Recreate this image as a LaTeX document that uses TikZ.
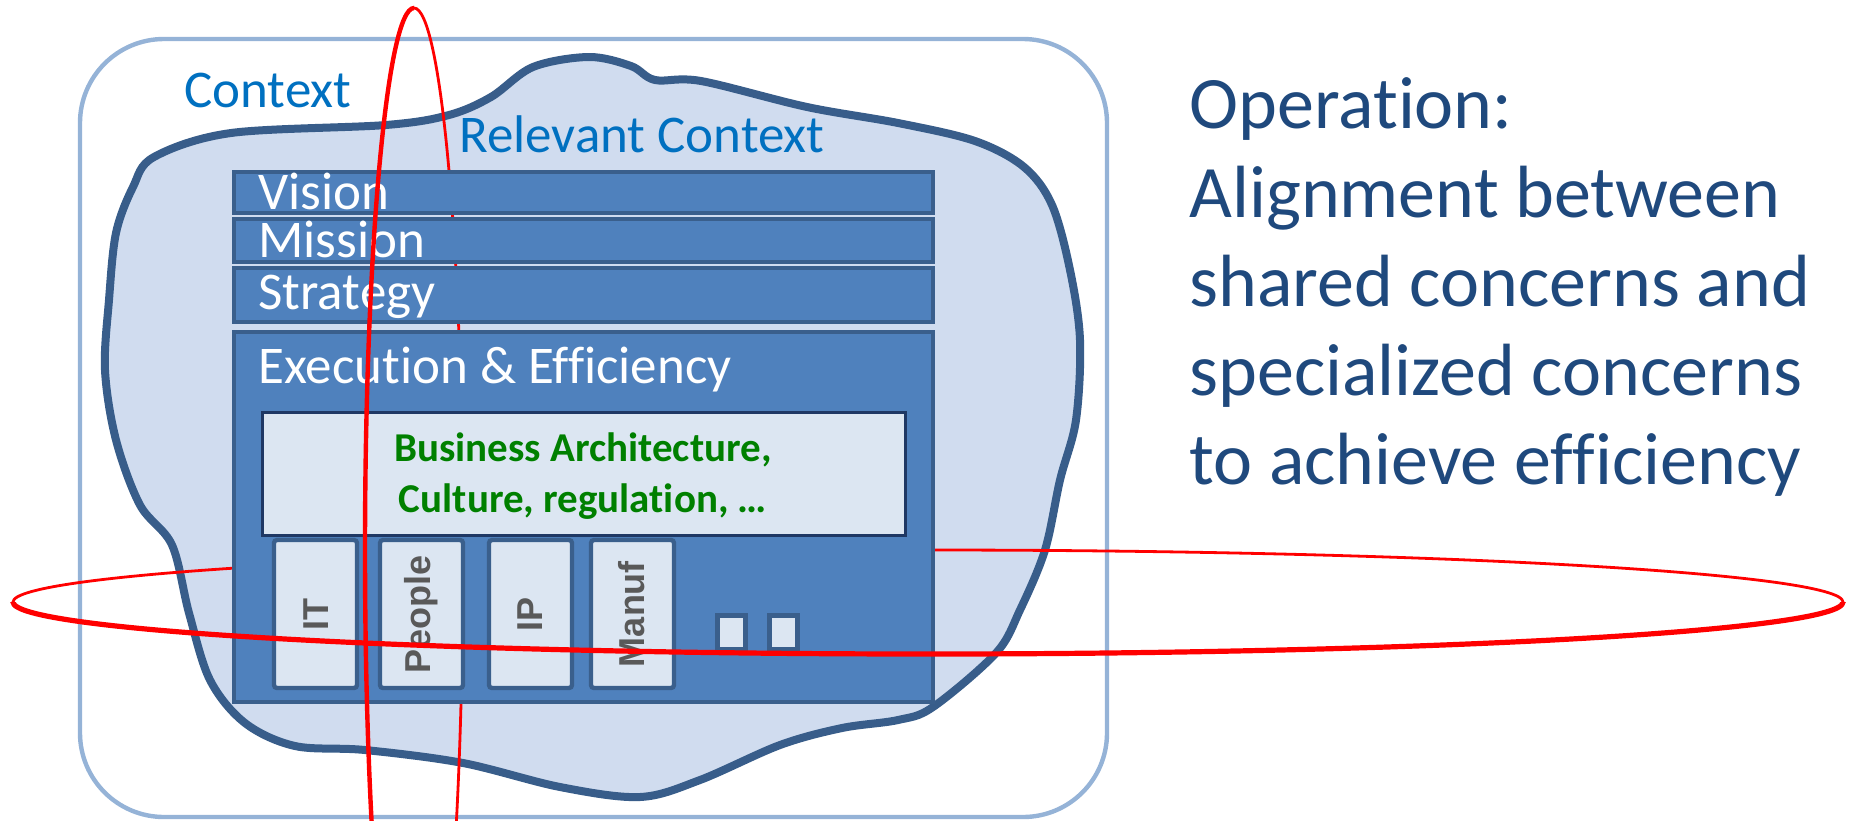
\documentclass[tikz,border=0pt]{standalone}
\usepackage{fontspec}
\setmainfont{Carlito}[Ligatures=NoCommon]
\newfontfamily\arialfont{Liberation Sans}
\definecolor{ctxline}{HTML}{95B3D7}
\definecolor{ctxtext}{HTML}{0070C0}
\definecolor{blobline}{HTML}{385D8A}
\definecolor{blobfill}{HTML}{D0DCEF}
\definecolor{barfill}{HTML}{4F81BD}
\definecolor{barline}{HTML}{3A5F8C}
\definecolor{lightfill}{HTML}{DCE6F2}
\definecolor{archline}{HTML}{1F3864}
\definecolor{optext}{HTML}{1F497D}
\definecolor{archgreen}{HTML}{008000}
\definecolor{labelgray}{HTML}{595959}
\tikzset{
  ctxbox/.style={draw=ctxline, line width=2.2pt, rounded corners=42pt},
  blob/.style={draw=blobline, fill=blobfill, line width=4pt},
  bar/.style={draw=barline, fill=barfill, line width=2pt},
  archbox/.style={draw=archline, fill=lightfill, line width=1.5pt},
  unitbox/.style={draw=barline, fill=lightfill, line width=2.2pt, rounded corners=1.5pt},
  bartext/.style={anchor=base west, inner sep=0pt, text=white, font=\fontsize{26.5}{31}\selectfont},
  ctxtext/.style={anchor=base west, inner sep=0pt, text=ctxtext, font=\fontsize{26.5}{31}\selectfont},
  unitlabel/.style={rotate=90, inner sep=0pt, text=labelgray, font=\arialfont\bfseries\fontsize{18}{21}\selectfont},
  redback/.style={draw=red, line width=1.4pt},
  redfront/.style={draw=red, line width=2.6pt}
}
\begin{document}
\begin{tikzpicture}[x=0.5pt, y=-0.5pt]
\useasboundingbox (0,0) rectangle (1851,820);
\draw[ctxbox] (80,39) rectangle (1107,817);
\node[ctxtext] (context) at (184,107) {Context};
\draw[blob] plot[smooth cycle, tension=0.55] coordinates {(154,157) (231,133) (386,125) (449,115) (491,97) (533,67) (589,57) (631,66) (655,80) (701,81) (807,107) (898,123) (975,141) (1024,167) (1052,205) (1070,270) (1080,340) (1076,420) (1060,480) (1045,550) (1020,610) (996,653) (933,707) (898,720) (842,728) (780,745) (700,780) (640,797) (560,787) (463,763) (365,750) (295,746) (245,723) (210,680) (189,613) (172,545) (140,505) (116,440) (105,370) (109,300) (116,233) (133,187)};
\node[ctxtext] (relevant) at (459,152) {Relevant Context};
\begin{scope}
  \clip (414,0) rectangle (1851,820);
  \draw[redback] (414,550) ellipse [x radius=49, y radius=542];
\end{scope}
\begin{scope}
  \clip (0,0) rectangle (1851,602);
  \draw[redback] (928,602) ellipse [x radius=915, y radius=52];
\end{scope}
\draw[bar] (234,172) rectangle (933,213);
\draw[bar] (234,219) rectangle (933,262);
\draw[bar] (234,268) rectangle (933,322);
\draw[bar] (234,332) rectangle (933,702);
\node[bartext] (vision) at (258,209) {Vision};
\node[bartext] (mission) at (258,257) {Mission};
\node[bartext] (strategy) at (258,309) {Strategy};
\node[bartext] (execution) at (258,383) {Execution \& Efficiency};
\draw[archbox] (262,412) rectangle (905,535);
\node[align=center, text=archgreen, font=\bfseries\fontsize{20.5}{25.5}\selectfont] (arch) at (583,476) {Business Architecture,\\Culture, regulation, \dots};
\draw[unitbox] (274,540) rectangle (357,688);
\draw[unitbox] (380,540) rectangle (463,688);
\draw[unitbox] (489,540) rectangle (572,688);
\draw[unitbox] (591,540) rectangle (674,688);
\node[unitlabel] (it) at (316,614) {IT};
\node[unitlabel] (people) at (421,614) {People};
\node[unitlabel] (ip) at (530,614) {IP};
\node[unitlabel] (manuf) at (632,614) {Manuf};
\draw[unitbox, rounded corners=0pt, line width=2.5pt] (717,615) rectangle (745,649);
\draw[unitbox, rounded corners=0pt, line width=2.5pt] (769,615) rectangle (797,649);
\begin{scope}
  \clip (0,0) rectangle (414,820);
  \draw[redfront, line width=2.2pt] (414,550) ellipse [x radius=49, y radius=542];
\end{scope}
\begin{scope}
  \clip (0,602) rectangle (1851,820);
  \draw[redfront] (928,602) ellipse [x radius=915, y radius=52];
\end{scope}
\node[anchor=north west, inner sep=0pt, align=left, text=optext, font=\fontsize{37}{44.5}\selectfont] (operation) at (1189,77) {Operation:\\Alignment between\\shared concerns and\\specialized concerns\\to achieve efficiency};
\end{tikzpicture}
\end{document}
